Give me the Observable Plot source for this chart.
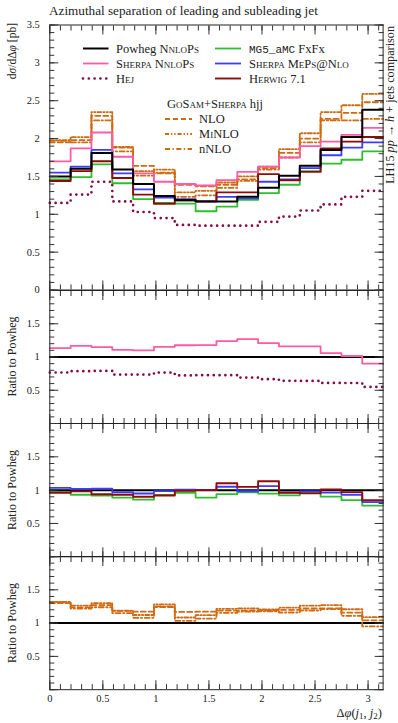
<!DOCTYPE html>
<html><head><meta charset="utf-8">
<script src="https://cdn.jsdelivr.net/npm/d3@7"></script>
<script src="https://cdn.jsdelivr.net/npm/@observablehq/plot@0.6"></script>
<style>
body{margin:0;background:#fff;}
#wrap{position:relative;width:398px;height:723px;overflow:hidden;background:#fff;font-family:"Liberation Serif",serif;}
#wrap svg{position:absolute;left:0;overflow:visible;}
</style></head><body><div id="wrap"></div>
<script>
// ---------------- data ----------------
const nBins = 16;
const binEdges = d3.range(nBins + 1).map(i => i * Math.PI / nBins);
const powheg  = [1.50,1.60,1.81,1.59,1.40,1.24,1.19,1.17,1.17,1.23,1.35,1.51,1.64,1.85,2.02,2.38];
const sherpaNnlops = [1.70,1.87,2.08,1.76,1.54,1.43,1.40,1.38,1.45,1.56,1.63,1.75,1.90,1.96,2.05,2.14];
const hej     = [1.15,1.26,1.43,1.17,1.03,0.95,0.86,0.85,0.85,0.85,0.90,0.97,1.05,1.13,1.23,1.31];
const mg5     = [1.46,1.49,1.66,1.41,1.20,1.15,1.14,1.04,1.10,1.19,1.28,1.39,1.57,1.67,1.72,1.83];
const sherpaMeps = [1.55,1.63,1.85,1.54,1.33,1.22,1.20,1.17,1.23,1.21,1.43,1.46,1.61,1.78,1.88,1.95];
const herwig  = [1.44,1.57,1.70,1.48,1.26,1.14,1.18,1.17,1.29,1.29,1.53,1.45,1.56,1.87,1.96,2.02];
const gosamNLO   = [1.95,1.98,2.30,1.88,1.64,1.54,1.39,1.37,1.39,1.46,1.61,1.81,2.00,2.26,2.34,2.48];
const gosamMiNLO = [1.98,2.02,2.35,1.89,1.57,1.59,1.29,1.31,1.42,1.50,1.63,1.86,2.07,2.35,2.44,2.59];
const gosamNNLO  = [1.97,1.95,2.24,1.83,1.51,1.55,1.23,1.25,1.35,1.44,1.59,1.75,1.95,2.24,2.24,2.26];

const xTickLabels = [0,0.5,1,1.5,2,2.5,3];
const xMinorTicks = d3.range(0, 3.15, 0.1);
const mainYLabels = [0,0.5,1,1.5,2,2.5,3,3.5];
const ratioYLabels = [0.5,1,1.5];

// ---------------- styles ----------------
const C = {
  powheg:"#000000", pink:"#ff5aa6", hej:"#850a45", green:"#2cbf2c",
  blue:"#3d3dff", red:"#8f0a0a", orange:"#d06a12"
};
const S = {
  powheg:{stroke:C.powheg, strokeWidth:2},
  pink:{stroke:C.pink, strokeWidth:1.8},
  hej:{stroke:C.hej, strokeWidth:2.7, strokeDasharray:"0.01,5.8", strokeLinecap:"round"},
  green:{stroke:C.green, strokeWidth:1.8},
  blue:{stroke:C.blue, strokeWidth:1.8},
  red:{stroke:C.red, strokeWidth:1.9},
  nlo:{stroke:C.orange, strokeWidth:1.8, strokeDasharray:"5,3"},
  minlo:{stroke:C.orange, strokeWidth:1.8, strokeDasharray:"4,2,1.3,2,1.3,2"},
  nnlo:{stroke:C.orange, strokeWidth:1.8, strokeDasharray:"5,2.5,1.3,2.5"}
};

const steps = vals => vals.map((v,i)=>({x:binEdges[i], y:v})).concat([{x:binEdges[nBins], y:vals[nBins-1]}]);
const ratio = vals => vals.map((v,i)=> v / powheg[i]);
const stepLine = (vals, st) => Plot.line(steps(vals), {x:"x", y:"y", curve:"step-after", ...st});

const W = 398, ML = 49.3, MR = 15.4;
const FONT = "'Liberation Serif', serif";
const TICKC = "#333";

function panel({top, marginTop, plotH, marginBottom, yDomain, yLabels, yMinorStep, marks, showXLabels}) {
  const yMinor = d3.range(yDomain[0], yDomain[1] + 1e-9, yMinorStep).map(d => +d.toFixed(3));
  const yMajor = d3.range(yDomain[0], yDomain[1] + 1e-9, 0.5).map(d => +d.toFixed(3));
  const xMajor = xTickLabels;
  const tk = (opts) => ({stroke:TICKC, fill:"none", label:null, ...opts});
  const allMarks = [
    ...marks,
    Plot.frame({stroke:"#222", strokeWidth:1}),
    Plot.axisX(xMajor, tk({anchor:"bottom", tickSize:9, dy:-9})),
    Plot.axisX(xMinorTicks, tk({anchor:"bottom", tickSize:5, dy:-5})),
    Plot.axisX(xMajor, tk({anchor:"top", tickSize:9, dy:9})),
    Plot.axisX(xMinorTicks, tk({anchor:"top", tickSize:5, dy:5})),
    Plot.axisY(yMajor, tk({anchor:"left", tickSize:9, dx:9})),
    Plot.axisY(yMinor, tk({anchor:"left", tickSize:5, dx:5})),
    Plot.axisY(yMajor, tk({anchor:"right", tickSize:9, dx:-9})),
    Plot.axisY(yMinor, tk({anchor:"right", tickSize:5, dx:-5})),
    Plot.axisY(yLabels, {anchor:"left", tickSize:0, tickPadding:10, label:null, tickFormat:d=>String(d), fill:"#222", fontSize:10.5, fontFamily:FONT})
  ];
  if (showXLabels) {
    allMarks.push(Plot.axisX(xTickLabels, {anchor:"bottom", tickSize:0, tickPadding:5, label:null, tickFormat:d=>String(d), fill:"#222", fontSize:10.5, fontFamily:FONT}));
  }
  const svg = Plot.plot({
    width: W, height: marginTop + plotH + marginBottom,
    marginLeft: ML, marginRight: MR, marginTop, marginBottom,
    x: {domain:[0, Math.PI]},
    y: {domain: yDomain},
    style: {fontFamily: FONT, fontSize:"10.5px", background:"transparent", overflow:"visible", color:"#222"},
    marks: allMarks
  });
  svg.style.top = top + "px";
  document.getElementById("wrap").appendChild(svg);
}

panel({
  top:0, marginTop:24.5, plotH:265, marginBottom:10, yDomain:[0,3.5], yLabels:mainYLabels, yMinorStep:0.1,
  marks:[
    stepLine(gosamNNLO, S.nnlo), stepLine(gosamMiNLO, S.minlo), stepLine(gosamNLO, S.nlo),
    stepLine(hej, S.hej),
    stepLine(mg5, S.green), stepLine(sherpaMeps, S.blue), stepLine(herwig, S.red),
    stepLine(sherpaNnlops, S.pink), stepLine(powheg, S.powheg)
  ]
});
panel({
  top:280, marginTop:10, plotH:133, marginBottom:10, yDomain:[0,2], yLabels:ratioYLabels, yMinorStep:0.1,
  marks:[ stepLine(ratio(hej), S.hej), stepLine(ratio(powheg), S.powheg), stepLine(ratio(sherpaNnlops), S.pink) ]
});
panel({
  top:413, marginTop:10, plotH:133.3, marginBottom:10, yDomain:[0,2], yLabels:ratioYLabels, yMinorStep:0.1,
  marks:[ stepLine(ratio(powheg), S.powheg), stepLine(ratio(mg5), S.green), stepLine(ratio(sherpaMeps), S.blue), stepLine(ratio(herwig), S.red) ]
});
panel({
  top:546.3, marginTop:10, plotH:133.2, marginBottom:33.5, yDomain:[0,2], yLabels:ratioYLabels, yMinorStep:0.1,
  marks:[ stepLine(ratio(powheg), S.powheg), stepLine(ratio(gosamNNLO), S.nnlo), stepLine(ratio(gosamMiNLO), S.minlo), stepLine(ratio(gosamNLO), S.nlo) ],
  showXLabels:true
});

// ---------------- overlay texts & legend ----------------
const ov = d3.select("#wrap").append("svg").attr("width",398).attr("height",723)
  .style("top","0px").style("pointer-events","none")
  .attr("font-family", FONT).attr("fill","#222");

ov.append("text").attr("x",49).attr("y",14.5).attr("font-size",13.2).text("Azimuthal separation of leading and subleading jet");

const yl = ov.append("text").attr("transform","translate(15.5,23) rotate(-90)").attr("text-anchor","end").attr("font-size",11.5);
yl.append("tspan").text("d");
yl.append("tspan").attr("font-style","italic").text("σ");
yl.append("tspan").text("/dΔ");
yl.append("tspan").attr("font-style","italic").text("φ");
yl.append("tspan").text(" [pb]");

const rl = ov.append("text").attr("transform","translate(393.5,26) rotate(-90)").attr("text-anchor","end").attr("font-size",12.2);
rl.append("tspan").text("LH15 ");
rl.append("tspan").attr("font-style","italic").text("pp");
rl.append("tspan").text(" → ");
rl.append("tspan").attr("font-style","italic").text("h");
rl.append("tspan").text(" + jets comparison");

[356.5, 490, 623].forEach(cy => {
  ov.append("text").attr("transform",`translate(15.5,${cy}) rotate(-90)`).attr("text-anchor","middle").attr("font-size",12).text("Ratio to Powheg");
});

const xl = ov.append("text").attr("x",382).attr("y",716.5).attr("text-anchor","end").attr("font-size",12.5);
xl.append("tspan").text("Δ");
xl.append("tspan").attr("font-style","italic").text("φ");
xl.append("tspan").text("(");
xl.append("tspan").attr("font-style","italic").text("j");
xl.append("tspan").attr("font-size",9).attr("dy",2.5).text("1");
xl.append("tspan").attr("dy",-2.5).text(", ");
xl.append("tspan").attr("font-style","italic").text("j");
xl.append("tspan").attr("font-size",9).attr("dy",2.5).text("2");
xl.append("tspan").attr("dy",-2.5).text(")");

const legendItems = [
  {col:0,row:0, style:S.powheg, parts:[["Powheg ",false],["NnloPs",true]]},
  {col:0,row:1, style:S.pink,   parts:[["Sherpa NnloPs",true]]},
  {col:0,row:2, style:S.hej,    parts:[["Hej",true]]},
  {col:1,row:0, style:S.green,  parts:[["MG5_aMC",false,"mono"],[" FxFx",false]]},
  {col:1,row:1, style:S.blue,   parts:[["Sherpa MePs@Nlo",true]]},
  {col:1,row:2, style:S.red,    parts:[["Herwig 7.1",true]]}
];
const colX = [[83,108.5,116],[215,241,249]];
const rowY = [48.5,63.5,78.5];
function drawItem(x1,x2,tx,y,st,parts){
  const ln = ov.append("line").attr("x1",x1).attr("x2",x2).attr("y1",y).attr("y2",y)
    .attr("stroke",st.stroke).attr("stroke-width",st.strokeWidth);
  if (st.strokeDasharray) ln.attr("stroke-dasharray",st.strokeDasharray);
  if (st.strokeLinecap) ln.attr("stroke-linecap",st.strokeLinecap);
  const t = ov.append("text").attr("x",tx).attr("y",y+4).attr("font-size",12.5);
  parts.forEach(([s,sc,mono])=>{
    const sp = t.append("tspan").text(s);
    if (sc) sp.attr("font-variant","small-caps");
    if (mono) sp.attr("font-family","'Liberation Mono', monospace").attr("font-size",11);
  });
}
legendItems.forEach(it => {
  const c = colX[it.col];
  drawItem(c[0],c[1],c[2],rowY[it.row],it.style,it.parts);
});
const gh = ov.append("text").attr("x",167).attr("y",108).attr("font-size",12.5);
gh.append("tspan").attr("font-variant","small-caps").text("GoSam+Sherpa");
gh.append("tspan").text(" hjj");
drawItem(165,192,199,119,S.nlo,[["NLO",false]]);
drawItem(165,192,199,134,S.minlo,[["M",false],["i",true],["NLO",false]]);
drawItem(165,192,199,149,S.nnlo,[["nNLO",false]]);
</script></body></html>
